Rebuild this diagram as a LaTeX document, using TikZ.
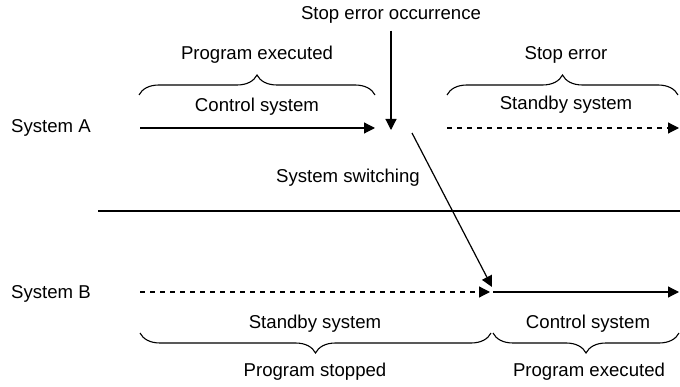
\documentclass[tikz,border=0pt]{standalone}
\usepackage{fontspec}
\setmainfont{Liberation Sans}
\usetikzlibrary{arrows.meta,decorations.pathreplacing,positioning}

\begin{document}
\begin{tikzpicture}[
    x=1pt, y=-1pt,
    lbl/.style={font=\fontsize{18.6}{20}\selectfont, inner sep=0pt},
    arr/.style={-{Triangle[length=11pt,width=11pt]}, line width=1.2pt},
    dsh/.style={arr, dash pattern=on 5pt off 5pt},
    brc/.style={decorate, decoration={brace, amplitude=20pt}, line width=1.1pt}
]
\useasboundingbox (0,0) rectangle (680,387);

% labels
\node[lbl] (sysA) at (51,128) {System A};
\node[lbl] (sysB) at (51,294) {System B};
\node[lbl] (err) at (391,15) {Stop error occurrence};
\node[lbl] (ctrlA) at (257,107) {Control system};
\node[lbl] (execA) at (257,55) {Program executed};
\node[lbl] (stbA) at (566,105) {Standby system};
\node[lbl] (stopA) at (566,55) {Stop error};
\node[lbl] (swt) at (348,178) {System switching};
\node[lbl] (stbB) at (315,324) {Standby system};
\node[lbl] (stopB) at (315,372) {Program stopped};
\node[lbl] (ctrlB) at (588,324) {Control system};
\node[lbl] (execB) at (589,372) {Program executed};

% time lines
\coordinate (a0) at (140,128);
\coordinate (a1) at (375,128);
\coordinate (a2) at (447,128);
\coordinate (a3) at (679,128);
\coordinate (b0) at (140,292);
\coordinate (b1) at (490,292);
\coordinate (b2) at (493,292);
\coordinate (b3) at (679,292);
\coordinate (errP) at (391,130);
\coordinate (swA) at (412,133);
\coordinate (swB) at (492,287);
\coordinate (sepL) at (98,211);
\coordinate (sepR) at (680,211);

\draw[arr] (a0) -- (a1);
\draw[dsh] (a2) -- (a3);
\draw[dsh] (b0) -- (b1);
\draw[arr] (b2) -- (b3);
\draw[arr, shorten <=7pt] (err) -- (errP);
\draw[arr] (swA) -- (swB);
\draw[line width=1.2pt] (sepL) -- (sepR);

% braces
\draw[brc] (139,95) -- (375,95);
\draw[brc] (447,95) -- (678,95);
\draw[brc] (491,333) -- (140,333);
\draw[brc] (679,333) -- (493,333);
\end{tikzpicture}
\end{document}
